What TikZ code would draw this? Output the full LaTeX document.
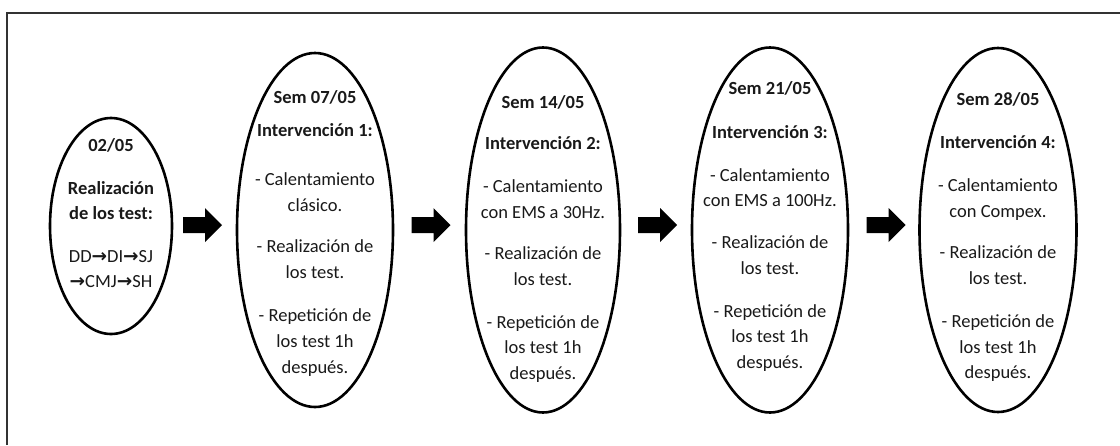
\documentclass[tikz,border=0pt]{standalone}
\usepackage{fontspec}
\setmainfont{Carlito}
\newfontfamily\arrowfont{DejaVu Sans}
\usetikzlibrary{shapes.geometric}
\newcommand{\ar}{{\arrowfont\bfseries →}}
\tikzset{
  x=1pt, y=-1pt,
  oval/.style={draw, ellipse, line width=2.6pt, inner sep=0pt},
  txt/.style={anchor=base, yshift=-6pt, inner sep=0pt, text=black!90,
              font=\fontsize{18.5}{22}\selectfont},
  frame/.style={draw=black!80, line width=1.3pt},
  blockarrow/.pic={\fill[black] (-19.5,-8) -- (2.5,-8) -- (2.5,-17) -- (19.5,0)
                   -- (2.5,17) -- (2.5,8) -- (-19.5,8) -- cycle;}
}
\begin{document}
\begin{tikzpicture}
\useasboundingbox (0,0) rectangle (1120,445);
\coordinate (fb) at (7,445);
\coordinate (fc) at (7,13);
\coordinate (fr) at (1120,13);
\draw[frame] (fb) -- (fc) -- (fr);

\node[oval, minimum width=122pt, minimum height=216pt] (e0) at (111,226) {};
\node[oval, minimum width=156pt, minimum height=354pt] (e1) at (315,230) {};
\node[oval, minimum width=154pt, minimum height=365pt] (e2) at (543,230) {};
\node[oval, minimum width=156pt, minimum height=365pt] (e3) at (770,230) {};
\node[oval, minimum width=157pt, minimum height=364pt] (e4) at (998,230) {};

\pic (a1) at (202.5,225) {blockarrow};
\pic (a2) at (431,225) {blockarrow};
\pic (a3) at (657.5,225) {blockarrow};
\pic (a4) at (886,225) {blockarrow};

\foreach[count=\i] \y/\t in {145/{\textbf{02/05}}, 188/{\textbf{Realización}},
  213/{\textbf{de los test:}}, 256/{DD\ar DI\ar SJ}, 281/{\ar CMJ\ar SH}}
  \node[txt] (t0-\i) at (111,\y) {\t};

\foreach[count=\i] \y/\t in {97/{\textbf{Sem 07/05}}, 130/{\textbf{Intervención 1:}},
  179/{- Calentamiento}, 205/{clásico.}, 246/{- Realización de}, 272/{los test.},
  315/{- Repetición de}, 341/{los test 1h}, 367/{después.}}
  \node[txt] (t1-\i) at (315,\y) {\t};

\foreach[count=\i] \y/\t in {102/{\textbf{Sem 14/05}}, 143/{\textbf{Intervención 2:}},
  186/{- Calentamiento}, 212/{con EMS a 30Hz.}, 253/{- Realización de}, 279/{los test.},
  322/{- Repetición de}, 347/{los test 1h}, 373/{después.}}
  \node[txt] (t2-\i) at (543,\y) {\t};

\foreach[count=\i] \y/\t in {88/{\textbf{Sem 21/05}}, 132/{\textbf{Intervención 3:}},
  175/{- Calentamiento}, 200/{con EMS a 100Hz.}, 242/{- Realización de}, 268/{los test.},
  311/{- Repetición de}, 336/{los test 1h}, 362/{después.}}
  \node[txt] (t3-\i) at (770,\y) {\t};

\foreach[count=\i] \y/\t in {99/{\textbf{Sem 28/05}}, 142/{\textbf{Intervención 4:}},
  185/{- Calentamiento}, 211/{con Compex.}, 252/{- Realización de}, 278/{los test.},
  321/{- Repetición de}, 347/{los test 1h}, 372/{después.}}
  \node[txt] (t4-\i) at (998,\y) {\t};
\end{tikzpicture}
\end{document}
